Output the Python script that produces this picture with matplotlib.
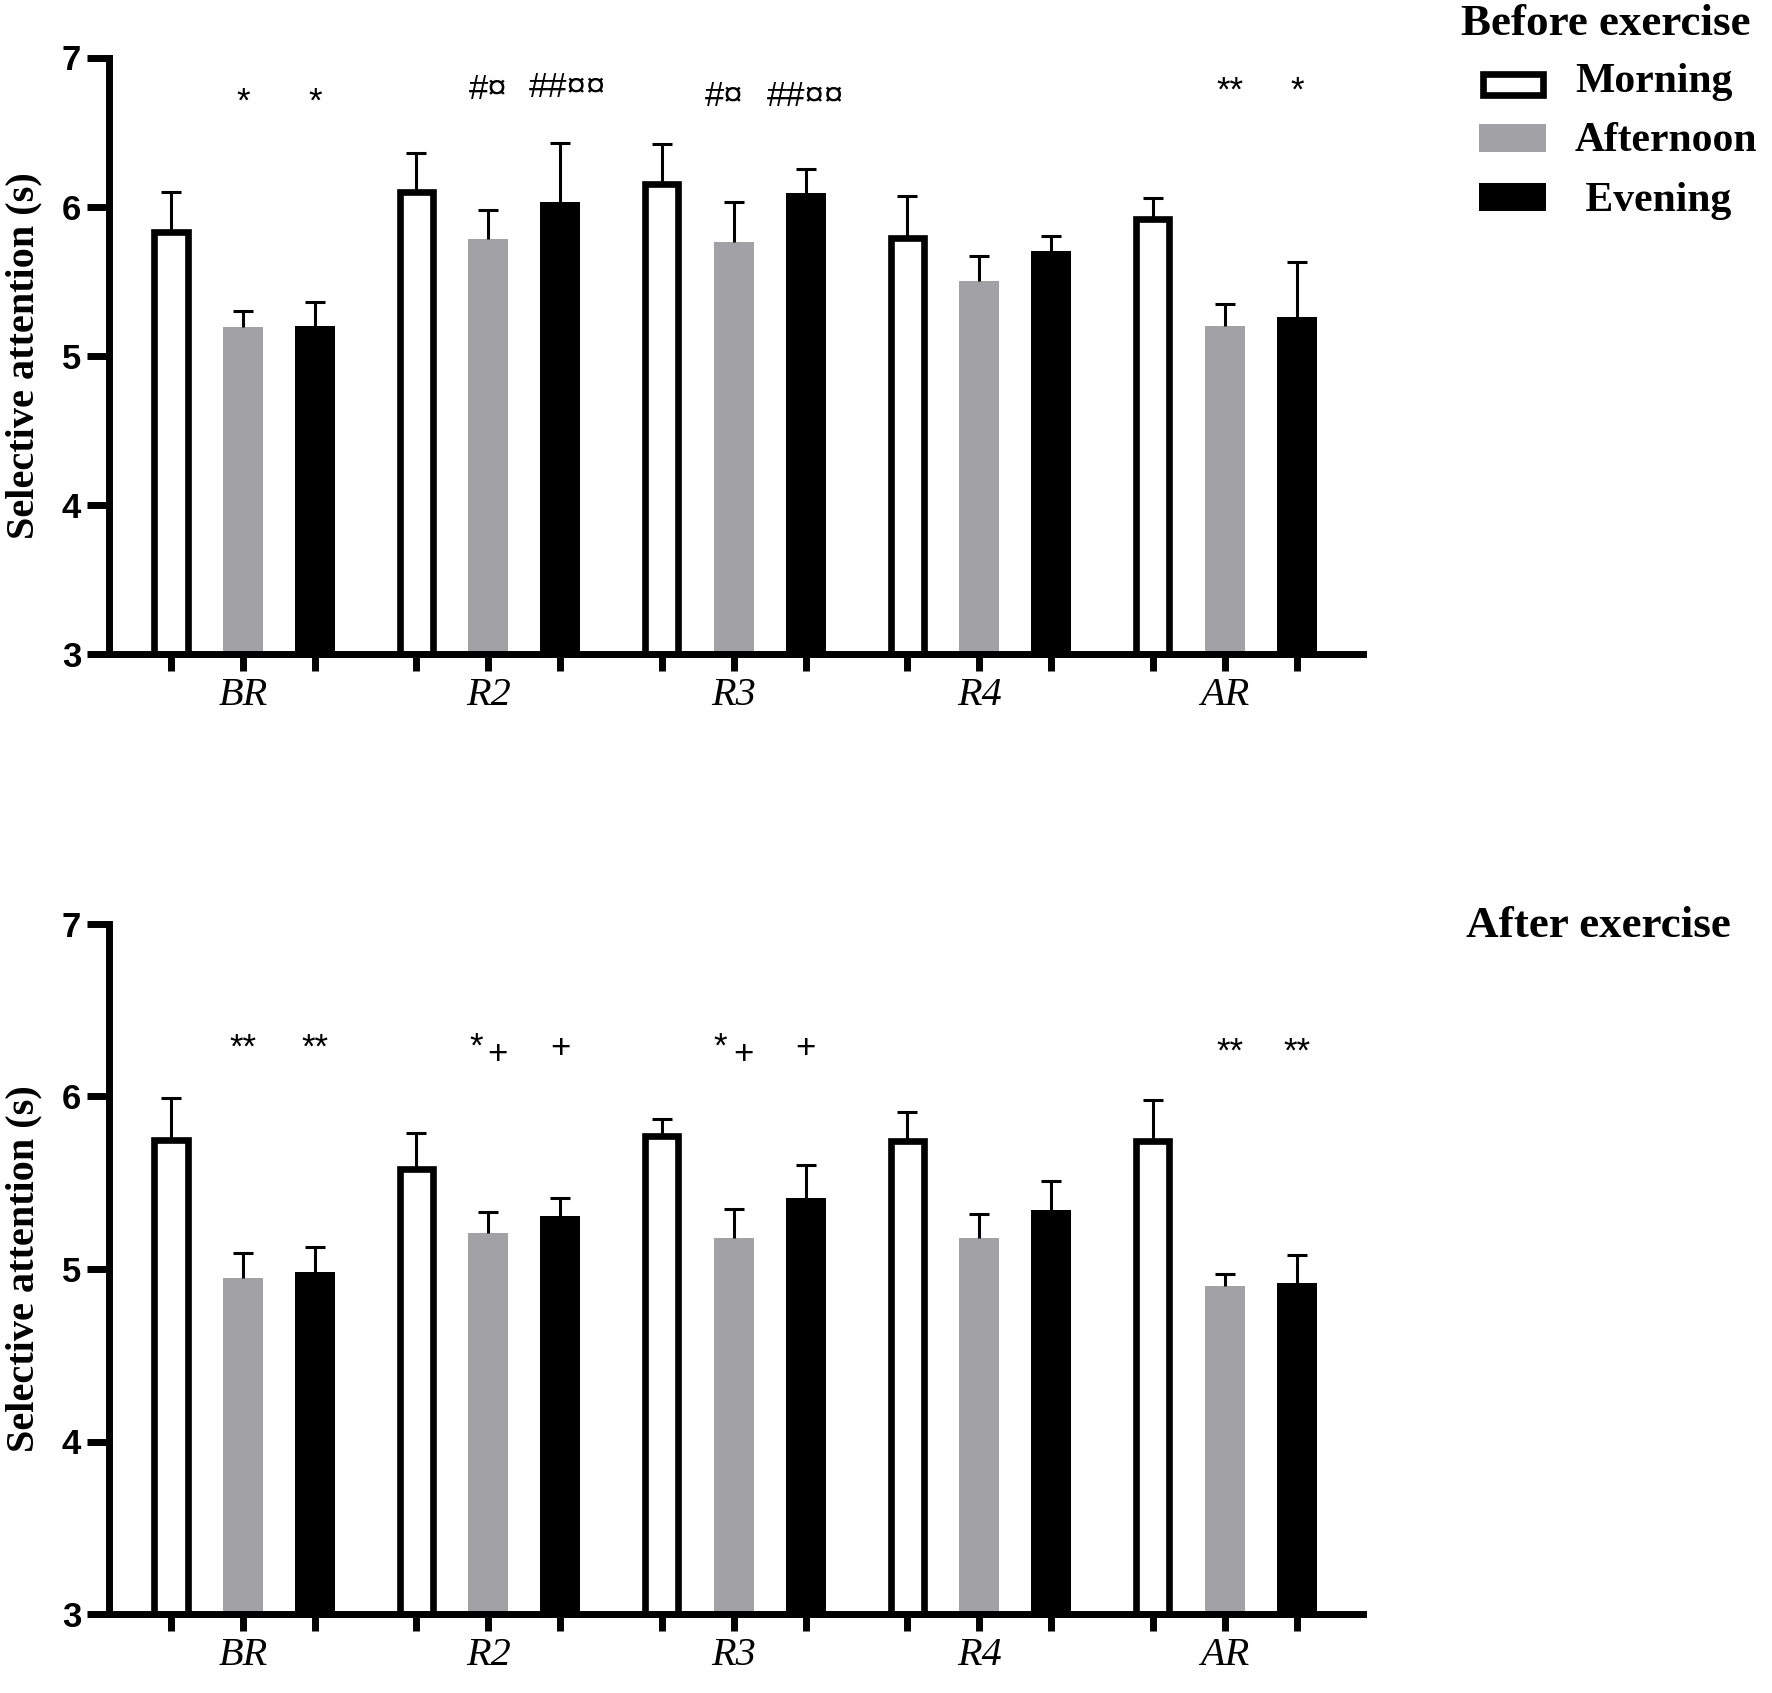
import numpy as np
import matplotlib
matplotlib.use("Agg")
import matplotlib.pyplot as plt
from matplotlib.patches import Rectangle

# -----------------------------
# data
# -----------------------------
categories = ["BR", "R2", "R3", "R4", "AR"]
series = ["Morning", "Afternoon", " Evening"]

before_morning = [5.83, 6.10, 6.15, 5.79, 5.92]
before_morning_err = [0.27, 0.26, 0.27, 0.28, 0.14]
before_afternoon = [5.19, 5.78, 5.76, 5.50, 5.20]
before_afternoon_err = [0.11, 0.20, 0.27, 0.17, 0.15]
before_evening = [5.20, 6.03, 6.09, 5.70, 5.26]
before_evening_err = [0.16, 0.40, 0.16, 0.10, 0.37]

after_morning = [5.75, 5.58, 5.77, 5.74, 5.74]
after_morning_err = [0.24, 0.21, 0.10, 0.17, 0.24]
after_afternoon = [4.95, 5.21, 5.18, 5.18, 4.90]
after_afternoon_err = [0.14, 0.12, 0.17, 0.14, 0.07]
after_evening = [4.98, 5.31, 5.41, 5.34, 4.92]
after_evening_err = [0.15, 0.10, 0.19, 0.17, 0.16]

# significance marks: (category, series index, text)
before_marks = [("BR", 1, "*"), ("BR", 2, "*"),
                ("R2", 1, "#¤"), ("R2", 2, "##¤¤"),
                ("R3", 1, "#¤"), ("R3", 2, "##¤¤"),
                ("AR", 1, "**"), ("AR", 2, "*")]
after_marks = [("BR", 1, "**"), ("BR", 2, "**"),
               ("R2", 1, "*"), ("R2", 1, "+"), ("R2", 2, "+"),
               ("R3", 1, "*"), ("R3", 1, "+"), ("R3", 2, "+"),
               ("AR", 1, "**"), ("AR", 2, "**")]

# -----------------------------
# style
# -----------------------------
W, H = 1772, 1693
SERIF = ["Liberation Serif", "DejaVu Serif"]
SANS = ["Liberation Sans", "DejaVu Sans"]
GRAY = "#a2a2a6"
GROUP_STEP = 3.41
BAR_W = 0.556
EDGE_LW = 4.8

plt.rcParams["font.family"] = SANS

# small nudges of the marks (x, in bar units) and their baselines (data y)
mark_dx = {("R2", 2, "##¤¤"): 0.1, ("R3", 1, "#¤"): -0.14, ("AR", 1, "**"): 0.07,
           ("R2", 1, "*"): -0.17, ("R2", 1, "+"): 0.13,
           ("R3", 1, "*"): -0.19, ("R3", 1, "+"): 0.13}
before_y = {("BR", 1, "*"): 6.64, ("BR", 2, "*"): 6.64,
            ("R2", 1, "#¤"): 6.72, ("R2", 2, "##¤¤"): 6.735,
            ("R3", 1, "#¤"): 6.675, ("R3", 2, "##¤¤"): 6.675,
            ("AR", 1, "**"): 6.71, ("AR", 2, "*"): 6.71}
after_y = {("BR", 1, "**"): 6.225, ("BR", 2, "**"): 6.225,
           ("R2", 1, "*"): 6.23, ("R2", 1, "+"): 6.19, ("R2", 2, "+"): 6.225,
           ("R3", 1, "*"): 6.23, ("R3", 1, "+"): 6.19, ("R3", 2, "+"): 6.225,
           ("AR", 1, "**"): 6.20, ("AR", 2, "**"): 6.20}


def fx(px):
    return px / W


def fy(py):
    return 1 - py / H


def draw_panel(ax, means, errs, marks, mark_y):
    centers = np.arange(len(categories)) * GROUP_STEP
    xs_all = []
    for k, (m, e) in enumerate(zip(means, errs)):
        xs = centers + (k - 1)
        m = np.asarray(m)
        e = np.asarray(e)
        if k == 0:
            ax.bar(xs, m, width=BAR_W - 0.095, color="white", edgecolor="black",
                   linewidth=EDGE_LW, zorder=2)
        else:
            ax.bar(xs, m, width=BAR_W, color=GRAY if k == 1 else "black",
                   linewidth=0, zorder=2)
        # upper error bar only
        ax.vlines(xs, m, m + e, color="black", linewidth=2.2, zorder=3)
        ax.plot(xs, m + e, linestyle="none", marker="_", markersize=14.5,
                markeredgewidth=2.2, color="black", zorder=3)
        xs_all.extend(xs)

    ticks = sorted(xs_all)
    labels_all = []
    for t in ticks:
        gi = int(np.argmin(np.abs(centers - t)))
        labels_all.append(categories[gi] if abs(centers[gi] - t) < 1e-6 else "")

    for cat, si, txt in marks:
        gi = categories.index(cat)
        x = centers[gi] + (si - 1)
        y = mark_y[(cat, si, txt)]
        dx = mark_dx.get((cat, si, txt), 0.0)
        ax.text(x + dx, y, txt, ha="center", va="baseline", fontsize=25,
                family=SANS, zorder=4)

    ax.set_xlim(-1.86, 15.56)
    ax.set_ylim(3, 7)
    ax.set_yticks([3, 4, 5, 6, 7])
    ax.set_xticks(ticks)
    ax.set_xticklabels(labels_all, family=SERIF, style="italic", fontsize=29)
    for lab in ax.get_yticklabels():
        lab.set_fontweight("bold")
        lab.set_fontsize(25)
    ax.tick_params(axis="y", direction="out", length=16, width=5, pad=4)
    ax.tick_params(axis="x", direction="out", length=12.5, width=5, pad=4)
    for side in ["top", "right"]:
        ax.spines[side].set_visible(False)
    for side in ["left", "bottom"]:
        ax.spines[side].set_linewidth(5)
        ax.spines[side].set_capstyle("projecting")
    ax.set_ylabel("Selective attention (s)", family=SERIF, fontweight="bold",
                  fontsize=29)
    ax.yaxis.set_label_coords(-0.053, 0.5)


fig = plt.figure(figsize=(W / 100, H / 100), dpi=100)
ax1 = fig.add_axes([fx(109), fy(654), fx(1363) - fx(109), fy(57.5) - fy(654)])
ax2 = fig.add_axes([fx(109), fy(1614), fx(1363) - fx(109), fy(924) - fy(1614)])

draw_panel(ax1,
           [before_morning, before_afternoon, before_evening],
           [before_morning_err, before_afternoon_err, before_evening_err],
           before_marks, before_y)
draw_panel(ax2,
           [after_morning, after_afternoon, after_evening],
           [after_morning_err, after_afternoon_err, after_evening_err],
           after_marks, after_y)

# legend / panel titles
fig.text(fx(1606), fy(35), "Before exercise", ha="center", va="baseline",
         family=SERIF, fontweight="bold", fontsize=32.5)
fig.text(fx(1598), fy(937), "After exercise", ha="center", va="baseline",
         family=SERIF, fontweight="bold", fontsize=32.5)

patch_styles = [dict(facecolor="white", edgecolor="black", linewidth=EDGE_LW),
                dict(facecolor=GRAY, linewidth=0),
                dict(facecolor="black", linewidth=0)]
row_center = [84, 138, 197]
row_base = [92, 151, 211]
for name, st, yc, yb in zip(series, patch_styles, row_center, row_base):
    if st.get("linewidth", 0) > 0:
        x0, x1, h = 1482.5, 1542.5, 21
    else:
        x0, x1, h = 1479, 1546, 28
    fig.add_artist(Rectangle((fx(x0), fy(yc + h / 2)), fx(x1) - fx(x0),
                             fy(yc - h / 2) - fy(yc + h / 2),
                             transform=fig.transFigure, **st))
    fig.text(fx(1575), fy(yb), name, ha="left", va="baseline",
             family=SERIF, fontweight="bold", fontsize=30)

fig.savefig("out.png", dpi=100)
